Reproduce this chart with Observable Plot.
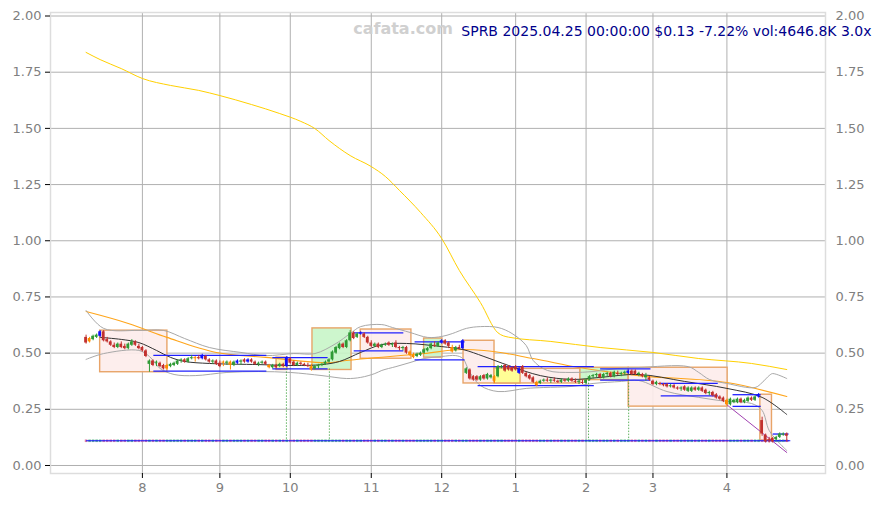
<!DOCTYPE html>
<html>
<head>
<meta charset="utf-8">
<script src="https://cdn.jsdelivr.net/npm/d3@7"></script>
<script src="https://cdn.jsdelivr.net/npm/@observablehq/plot@0.6"></script>
<style>
  html, body { margin: 0; padding: 0; background: #fff; }
</style>
</head>
<body>
<div id="chart"></div>
<script>
// ---------- data ----------
const titleText = "SPRB 2025.04.25 00:00:00 $0.13 -7.22% vol:4646.8K 3.0x";
const watermark = "cafata.com";

// bar index: 0 = first trading day of August 2024
const firstBar = -16;
const monthIdx = [0, 22, 42, 65, 85, 106, 126, 145, 166];
const monthLabels = ["8", "9", "10", "11", "12", "1", "2", "3", "4"];
const yTicks = [0, 0.25, 0.5, 0.75, 1.0, 1.25, 1.5, 1.75, 2.0];

const O = [
 .57,.55,.56,.57,.575,.595,.56,.55,.535,.525,
 .54,.53,.52,.535,.55,.53,.525,.51,.45,.465,
 .455,.455,.445,.43,.44,.445,.45,.465,.47,.46,
 .475,.475,.48,.475,.485,.47,.46,.465,.455,.455,
 .455,.46,.445,.455,.46,.47,.46,.47,.46,.45,
 .455,.46,.445,.435,.445,.44,.45,.44,.475,.46,
 .445,.455,.45,.445,.44,.43,.44,.445,.45,.46,
 .47,.50,.52,.54,.525,.555,.59,.57,.585,.585,
 .57,.545,.53,.54,.525,.535,.545,.535,.545,.525,
 .52,.525,.505,.49,.485,.49,.50,.51,.52,.535,
 .53,.545,.555,.545,.525,.51,.525,.52,.41,.425,
 .395,.395,.38,.40,.385,.39,.395,.395,.435,.445,
 .44,.435,.44,.41,.44,.41,.40,.39,.37,.365,
 .375,.38,.375,.38,.375,.37,.38,.375,.385,.375,
 .37,.37,.365,.38,.395,.40,.405,.39,.405,.41,
 .395,.41,.405,.41,.41,.42,.42,.405,.405,.39,
 .39,.375,.36,.365,.36,.36,.35,.355,.345,.34,
 .35,.33,.33,.345,.335,.345,.335,.32,.325,.315,
 .305,.30,.29,.27,.28,.28,.295,.28,.285,.30,
 .29,.305,.20,.135,.115,.12,.115,.125,.135,.14
];
const H = [
 .58,.57,.58,.585,.60,.60,.57,.555,.545,.545,
 .55,.54,.545,.56,.555,.54,.53,.515,.47,.47,
 .465,.46,.45,.45,.455,.46,.47,.475,.475,.48,
 .49,.485,.49,.495,.49,.475,.47,.47,.465,.465,
 .465,.465,.465,.47,.47,.475,.475,.475,.465,.46,
 .465,.465,.45,.45,.45,.455,.455,.485,.48,.465,
 .46,.46,.455,.455,.45,.445,.45,.455,.465,.475,
 .51,.53,.545,.545,.56,.60,.595,.59,.595,.59,
 .575,.555,.545,.545,.54,.545,.55,.545,.555,.53,
 .53,.53,.51,.50,.50,.505,.52,.525,.545,.55,
 .55,.56,.56,.55,.535,.53,.535,.56,.435,.43,
 .40,.40,.40,.405,.41,.405,.40,.445,.445,.45,
 .445,.44,.445,.435,.445,.415,.405,.395,.375,.38,
 .385,.39,.385,.39,.38,.385,.385,.39,.39,.385,
 .38,.38,.385,.40,.405,.41,.41,.41,.415,.415,
 .42,.42,.415,.42,.425,.425,.425,.415,.41,.41,
 .395,.38,.375,.37,.365,.365,.36,.36,.35,.35,
 .355,.35,.35,.35,.35,.35,.34,.33,.33,.32,
 .31,.305,.295,.30,.295,.30,.30,.295,.305,.305,
 .31,.32,.215,.14,.125,.125,.13,.145,.145,.145
];
const L = [
 .54,.545,.555,.565,.57,.55,.545,.53,.52,.52,
 .52,.515,.515,.53,.53,.515,.505,.48,.415,.44,
 .44,.435,.425,.425,.435,.44,.445,.455,.455,.455,
 .47,.46,.47,.47,.465,.455,.45,.445,.435,.44,
 .445,.425,.44,.45,.445,.455,.455,.455,.445,.44,
 .45,.445,.43,.43,.43,.435,.435,.435,.45,.44,
 .44,.445,.44,.435,.42,.425,.43,.44,.445,.455,
 .465,.495,.515,.52,.52,.55,.56,.565,.58,.565,
 .54,.525,.525,.52,.52,.53,.53,.525,.52,.51,
 .51,.495,.485,.475,.48,.485,.495,.505,.515,.525,
 .525,.54,.535,.52,.50,.505,.515,.515,.405,.38,
 .375,.375,.375,.38,.38,.385,.365,.39,.43,.415,
 .42,.415,.42,.405,.405,.39,.38,.365,.35,.36,
 .37,.37,.365,.37,.365,.365,.37,.37,.37,.365,
 .36,.36,.36,.375,.385,.39,.385,.385,.395,.39,
 .39,.40,.395,.40,.405,.40,.40,.395,.39,.375,
 .375,.355,.355,.355,.35,.345,.345,.34,.335,.33,
 .33,.325,.325,.33,.33,.325,.315,.31,.305,.295,
 .29,.28,.265,.265,.275,.275,.275,.275,.28,.285,
 .285,.30,.13,.10,.10,.10,.11,.12,.13,.105
];
const C = [
 .545,.565,.575,.58,.595,.555,.55,.535,.525,.54,
 .525,.52,.54,.55,.535,.52,.51,.485,.465,.445,
 .46,.44,.43,.445,.45,.455,.465,.47,.46,.475,
 .48,.48,.475,.49,.47,.46,.465,.45,.44,.46,
 .46,.445,.46,.465,.465,.46,.47,.46,.45,.455,
 .46,.45,.435,.445,.435,.45,.44,.48,.455,.445,
 .455,.45,.445,.44,.425,.44,.445,.45,.46,.47,
 .505,.525,.54,.525,.555,.59,.565,.585,.59,.57,
 .545,.53,.54,.525,.535,.54,.535,.54,.525,.52,
 .525,.50,.49,.48,.495,.50,.515,.52,.54,.53,
 .545,.555,.54,.53,.505,.525,.52,.555,.43,.385,
 .38,.38,.395,.385,.405,.40,.375,.44,.44,.42,
 .425,.42,.425,.43,.41,.395,.385,.37,.355,.375,
 .38,.375,.38,.375,.37,.38,.375,.385,.375,.37,
 .375,.365,.38,.395,.40,.405,.39,.405,.41,.395,
 .415,.405,.41,.415,.42,.405,.405,.41,.395,.40,
 .38,.36,.37,.36,.355,.35,.355,.345,.34,.345,
 .335,.345,.345,.335,.345,.33,.32,.325,.31,.30,
 .295,.285,.27,.295,.29,.295,.28,.29,.30,.29,
 .305,.315,.14,.105,.11,.105,.125,.14,.14,.13
];
const blueBars = [-12, 17, 27, 30, 41, 62, 85, 91, 107, 138, 175];
const orangeBars = [-15, 7, 15, 23, 25, 36, 48, 76, 77, 88, 100, 112, 166];

// long moving average (gold)
const goldIdx = [-16,-12,-6,0,8,16,22,31,39,45,49,53,59,65,69,73,79,85,90,96,101,104,116,130,145,158,173,183];
const goldVal = [1.838,1.806,1.766,1.722,1.691,1.669,1.646,1.606,1.566,1.531,1.499,1.446,1.379,1.330,1.286,1.224,1.126,1.010,0.868,0.725,0.590,0.571,0.552,0.525,0.503,0.476,0.454,0.427];
// medium moving average (orange)
const orangeIdx = [-16,-4,7,21,35,53,56,80,91,97,111,124,141,166,183];
const orangeVal = [0.685,0.632,0.570,0.503,0.481,0.457,0.463,0.498,0.516,0.512,0.476,0.436,0.400,0.369,0.307];
// short moving average (black)
const maIdx = [-12,-6,-1,4,8,12,19,33,43,51,56,62,68,75,85,91,97,104,113,122,130,141,154,166,176,183];
const maVal = [0.570,0.561,0.547,0.512,0.481,0.463,0.454,0.449,0.445,0.449,0.463,0.503,0.538,0.543,0.529,0.516,0.485,0.445,0.400,0.383,0.392,0.405,0.374,0.343,0.303,0.227];
// bands (gray)
const upperIdx = [-16,-11,-1,6,12,19,28,35,43,49,55,59,62,68,71,76,81,85,88,92,96,101,105,109,111,115,122,128,135,141,155,158,161,166,174,176,178,179,183];
const upperVal = [0.690,0.610,0.601,0.601,0.565,0.525,0.503,0.489,0.498,0.498,0.543,0.587,0.618,0.627,0.614,0.592,0.570,0.574,0.587,0.610,0.618,0.614,0.587,0.534,0.467,0.423,0.414,0.418,0.432,0.436,0.440,0.414,0.383,0.365,0.347,0.369,0.400,0.409,0.387];
const lowerIdx = [-16,-11,-1,2,5,9,15,24,33,42,51,58,62,66,68,72,76,80,85,89,91,93,96,101,109,114,122,128,136,141,149,158,166,173,176,178,181,183];
const lowerVal = [0.472,0.498,0.512,0.485,0.432,0.405,0.400,0.414,0.418,0.414,0.400,0.387,0.392,0.409,0.423,0.440,0.458,0.476,0.485,0.489,0.476,0.414,0.356,0.329,0.343,0.347,0.352,0.365,0.374,0.378,0.329,0.303,0.285,0.276,0.245,0.156,0.098,0.067];
// trend line (purple)
const purpleIdx = [166, 183];
const purpleVal = [0.27, 0.058];

// boxes: [startIdx, endIdx, low, high, kind]
const boxStart = [-12, 38.1, 48.3, 62, 80, 91.2, 100, 100, 124.4, 138.1, 175.5];
const boxEnd   = [7.1, 41.2, 59.4, 76.4, 85.2, 100, 124.4, 107.4, 138.1, 166.2, 178.8];
const boxLow   = [0.415, 0.425, 0.425, 0.475, 0.48, 0.365, 0.365, 0.365, 0.38, 0.262, 0.11];
const boxHigh  = [0.60, 0.48, 0.61, 0.605, 0.565, 0.555, 0.43, 0.432, 0.435, 0.435, 0.315];
const boxKind  = ["pink","lightyellow","green","pink","green","pink","pink","yellow","green","pink","pink"];

// range lines (blue): [startIdx, endIdx, level]
const segStart = [3.1, 3.1, 36.9, 36.9, 60, 60, 77.3, 77.3, 95.2, 95.2, 130, 130, 147.2, 147.2, 167.6, 167.6, 179, 179];
const segEnd   = [35.2, 35.2, 52.6, 52.6, 74.1, 74.1, 91.5, 91.5, 128.2, 128.2, 144.3, 144.3, 163.4, 163.4, 175.6, 175.6, 183.5, 183.5];
const segLevel = [0.49, 0.42, 0.48, 0.43, 0.59, 0.51, 0.55, 0.47, 0.44, 0.355, 0.43, 0.38, 0.365, 0.31, 0.315, 0.263, 0.14, 0.11];

// signal markers (green dotted): index and top level
const signalIdx = [40.9, 53.1, 126.7, 138.1];
const signalTop = [0.43, 0.43, 0.38, 0.38];

const stripLevel = 0.11;
const stripStart = -16, stripEnd = 184;

// ---------- build tables ----------
const bars = O.map((o, k) => ({i: firstBar + k, o, h: H[k], l: L[k], c: C[k]}));
const blueSet = new Set(blueBars), orangeSet = new Set(orangeBars);
const UP = "#2f9a35", DOWN = "#c2302e";
const barColor = d => blueSet.has(d.i) ? "#1010ff" : orangeSet.has(d.i) ? "#ff8c00" : (d.c >= d.o ? UP : DOWN);
const pts = (idx, val) => idx.map((i, k) => ({i, v: val[k]}));
const boxes = boxStart.map((a, k) => ({a, b: boxEnd[k], lo: boxLow[k], hi: boxHigh[k], kind: boxKind[k]}));
const boxFill = {pink: "#fdeceb", green: "#c8f5c8", yellow: "#ffff8c", lightyellow: "#fff3a8"};
const segs = segStart.map((a, k) => ({a, b: segEnd[k], v: segLevel[k]}));
const signals = signalIdx.map((i, k) => ({i, top: signalTop[k]}));
const monthMap = new Map(monthIdx.map((d, k) => [d, monthLabels[k]]));

const chart = Plot.plot({
  width: 881,
  height: 507,
  marginLeft: 50,
  marginRight: 56,
  marginTop: 12,
  marginBottom: 34,
  x: {type: "linear", domain: [-26.1, 194.0], axis: null},
  y: {domain: [-0.0356, 2.0156], axis: null},
  style: {fontFamily: "DejaVu Sans", fontSize: "13px", background: "#ffffff", overflow: "visible"},
  marks: [
    Plot.gridY(yTicks, {stroke: "#b0b0b0", strokeOpacity: 1, strokeWidth: 1}),
    Plot.gridX(monthIdx, {stroke: "#b0b0b0", strokeOpacity: 1, strokeWidth: 1}),
    Plot.frame({stroke: "#dddddd", strokeWidth: 1.5}),
    Plot.rect(boxes, {x1: "a", x2: "b", y1: "lo", y2: "hi",
      fill: d => boxFill[d.kind], fillOpacity: 0.9,
      stroke: "#e8a468", strokeWidth: 1.4}),
    Plot.line(pts(goldIdx, goldVal), {x: "i", y: "v", stroke: "#ffd000", strokeWidth: 1, curve: "monotone-x"}),
    Plot.line(pts(orangeIdx, orangeVal), {x: "i", y: "v", stroke: "#ffa51a", strokeWidth: 1.1, curve: "monotone-x"}),
    Plot.line(pts(upperIdx, upperVal), {x: "i", y: "v", stroke: "#a8a8a8", strokeWidth: 1, curve: "catmull-rom"}),
    Plot.line(pts(lowerIdx, lowerVal), {x: "i", y: "v", stroke: "#a8a8a8", strokeWidth: 1, curve: "catmull-rom"}),
    Plot.line(pts(maIdx, maVal), {x: "i", y: "v", stroke: "#333333", strokeWidth: 1, curve: "catmull-rom"}),
    Plot.link(segs, {x1: "a", x2: "b", y1: "v", y2: "v", stroke: "#2020ff", strokeWidth: 1.3}),
    Plot.ruleX(signals, {x: "i", y1: "top", y2: () => stripLevel, stroke: "#3aa03a", strokeWidth: 0.8, strokeDasharray: "1.5,1.5"}),
    Plot.dot(bars, {x: "i", y: () => stripLevel, symbol: "square", r: 1.45,
      fill: d => d.c >= d.o ? "#6fbf94" : "#dc7fa4", stroke: "none"}),
    Plot.link([{a: stripStart, b: stripEnd, v: stripLevel}], {x1: "a", x2: "b", y1: "v", y2: "v", stroke: "#1010ff", strokeWidth: 1}),
    Plot.line(pts(purpleIdx, purpleVal), {x: "i", y: "v", stroke: "#a040b0", strokeWidth: 1}),
    Plot.ruleX(bars, {x: "i", y1: "l", y2: "h", stroke: barColor, strokeWidth: 1}),
    Plot.rect(bars, {x1: d => d.i - 0.4, x2: d => d.i + 0.4, y1: "o", y2: "c", fill: barColor}),
    Plot.text([watermark], {frameAnchor: "top", dx: -35, dy: 10, fontSize: 16, fontWeight: "bold", fill: "#d0d0d0"}),
    Plot.text([titleText], {frameAnchor: "top-right", dx: 46, dy: 14, fontSize: 14, fill: "#00008b", textAnchor: "end"}),
    Plot.axisX(monthIdx, {tickFormat: d => monthMap.get(d), tickSize: 5, tickPadding: 4, fontSize: 13}),
    Plot.axisY(yTicks, {anchor: "left", tickFormat: d3.format(".2f"), tickSize: 5, tickPadding: 4, fontSize: 13}),
    Plot.axisY(yTicks, {anchor: "right", tickFormat: d3.format(".2f"), tickSize: 0, tickPadding: 10, fontSize: 13})
  ]
});
chart.querySelectorAll('g[aria-label$="tick label"]').forEach(g => {
  g.setAttribute("fill", "#808080");
  g.querySelectorAll("text").forEach(t => t.setAttribute("fill", "#808080"));
});
document.getElementById("chart").appendChild(chart);
</script>
</body>
</html>
